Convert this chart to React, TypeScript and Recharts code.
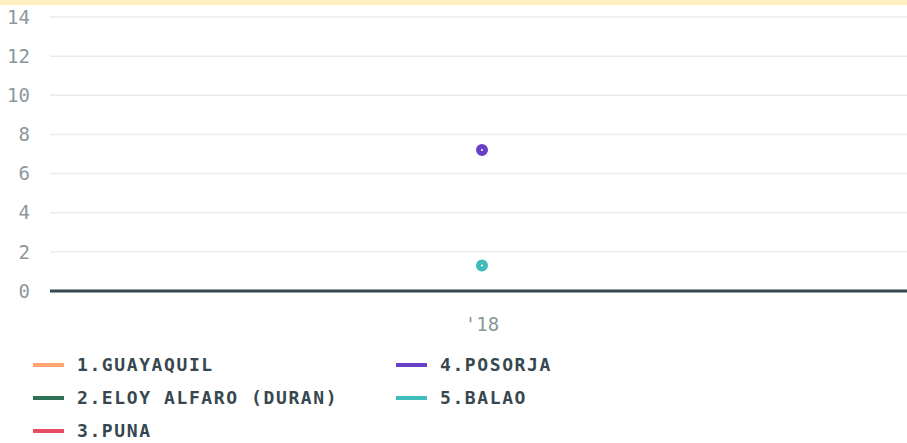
import React from "react";
import { LineChart, Line, XAxis, YAxis, CartesianGrid, Legend } from "recharts";

const years = ["'18"];
const guayaquil: (number | null)[] = [null];
const eloyAlfaro: (number | null)[] = [null];
const puna: (number | null)[] = [null];
const posorja: (number | null)[] = [7.2];
const balao: (number | null)[] = [1.3];
const yTicks = [0, 2, 4, 6, 8, 10, 12, 14];

const series = [
  { key: "guayaquil", name: "1.GUAYAQUIL", color: "#ffa372", values: guayaquil },
  { key: "eloy", name: "2.ELOY ALFARO (DURAN)", color: "#2f7157", values: eloyAlfaro },
  { key: "puna", name: "3.PUNA", color: "#e84b62", values: puna },
  { key: "posorja", name: "4.POSORJA", color: "#6b3ec8", values: posorja },
  { key: "balao", name: "5.BALAO", color: "#40bcbb", values: balao },
];

const data = years.map((y, i) => {
  const row: Record<string, string | number | null> = { year: y };
  series.forEach((s) => {
    row[s.key] = s.values[i];
  });
  return row;
});

const MONO = "'DejaVu Sans Mono', 'Liberation Mono', monospace";

function ChartLegend() {
  const cols = [series.slice(0, 3), series.slice(3)];
  return (
    <div style={{ display: "flex", paddingLeft: 33, paddingTop: 10 }}>
      {cols.map((col, ci) => (
        <div key={ci} style={{ width: 363 }}>
          {col.map((s) => (
            <div key={s.key} style={{ display: "flex", alignItems: "center", height: 33 }}>
              <span style={{ display: "inline-block", width: 31, height: 4, background: s.color, marginRight: 13 }} />
              <span
                style={{
                  fontFamily: MONO,
                  fontWeight: 700,
                  fontSize: 18,
                  letterSpacing: 1.6,
                  color: "#37474f",
                }}
              >
                {s.name}
              </span>
            </div>
          ))}
        </div>
      ))}
    </div>
  );
}

export default function App() {
  return (
    <div style={{ position: "absolute", top: 0, left: 0, width: 907, height: 443, overflow: "hidden", background: "#fff" }}>
      <div style={{ position: "absolute", top: 0, left: 0, width: 907, height: 5, background: "#fdefbf" }} />
      <LineChart width={920} height={443} data={data} margin={{ top: 17, right: 6, bottom: 0, left: 0 }}>
        <CartesianGrid vertical={false} stroke="#ebebeb" strokeWidth={1.5} />
        <XAxis
          dataKey="year"
          height={47}
          axisLine={{ stroke: "#37474f", strokeWidth: 3 }}
          tickLine={false}
          tickSize={0}
          tickMargin={27}
          tick={{ fill: "#8b979c", fontSize: 19, fontFamily: MONO }}
        />
        <YAxis
          width={50}
          domain={[0, 14]}
          ticks={yTicks}
          axisLine={false}
          tickLine={false}
          tickSize={0}
          tickMargin={20}
          tick={{ fill: "#8b979c", fontSize: 19, fontFamily: MONO }}
        />
        <Legend verticalAlign="bottom" height={105} content={() => <ChartLegend />} />
        {series.map((s) => (
          <Line
            key={s.key}
            dataKey={s.key}
            name={s.name}
            stroke={s.color}
            strokeWidth={3}
            isAnimationActive={false}
            dot={{ r: 3.5, fill: "#ffffff", stroke: s.color, strokeWidth: 5 }}
          />
        ))}
      </LineChart>
    </div>
  );
}
